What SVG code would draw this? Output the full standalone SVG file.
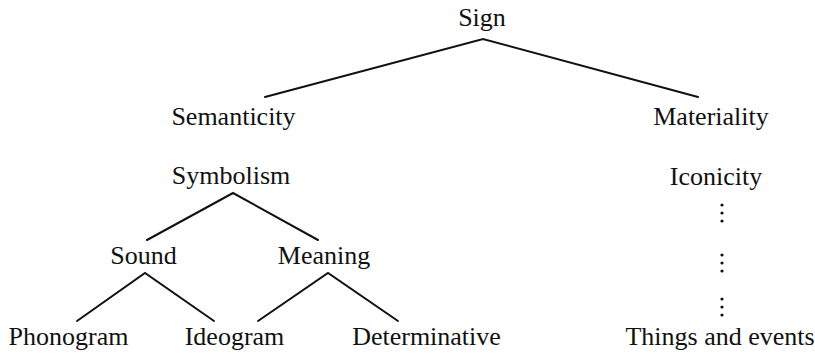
<svg xmlns="http://www.w3.org/2000/svg" width="815" height="355" viewBox="0 0 815 355">
<style>
.t{font-family:"Liberation Serif","Times New Roman",serif;font-size:26px;fill:#111;text-anchor:middle}
.e{stroke:#111;stroke-width:2;fill:none;stroke-linecap:round}
.d{fill:#111}
</style>
<rect width="815" height="355" fill="#fff"/>
<g id="connectors">
<polyline class="e" points="265,97 483,39 698,97"/>
<polyline class="e" points="147,240 233,193 318,240"/>
<polyline class="e" points="77,321 145,273 214,321"/>
<polyline class="e" points="258,321 328,273 398,321"/>
<g id="dots" class="d">
<circle cx="722" cy="205" r="1.6"/><circle cx="722" cy="213" r="1.6"/><circle cx="722" cy="221" r="1.6"/>
<circle cx="722" cy="255" r="1.6"/><circle cx="722" cy="263" r="1.6"/><circle cx="722" cy="271" r="1.6"/>
<circle cx="722" cy="299" r="1.6"/><circle cx="722" cy="307" r="1.6"/><circle cx="722" cy="315" r="1.6"/>
</g>
</g>
<g id="sign"><text class="t" x="482" y="26">Sign</text></g>
<g id="semanticity"><text class="t" x="233.5" y="125">Semanticity</text></g>
<g id="materiality"><text class="t" x="711" y="125">Materiality</text></g>
<g id="symbolism"><text class="t" x="231" y="184">Symbolism</text></g>
<g id="iconicity"><text class="t" x="716" y="185">Iconicity</text></g>
<g id="sound"><text class="t" x="143.5" y="264">Sound</text></g>
<g id="meaning"><text class="t" x="324" y="264">Meaning</text></g>
<g id="phonogram"><text class="t" x="68.5" y="345">Phonogram</text></g>
<g id="ideogram"><text class="t" x="234.5" y="345">Ideogram</text></g>
<g id="determinative"><text class="t" x="426.5" y="345">Determinative</text></g>
<g id="things"><text class="t" x="720" y="345">Things and events</text></g>
</svg>
